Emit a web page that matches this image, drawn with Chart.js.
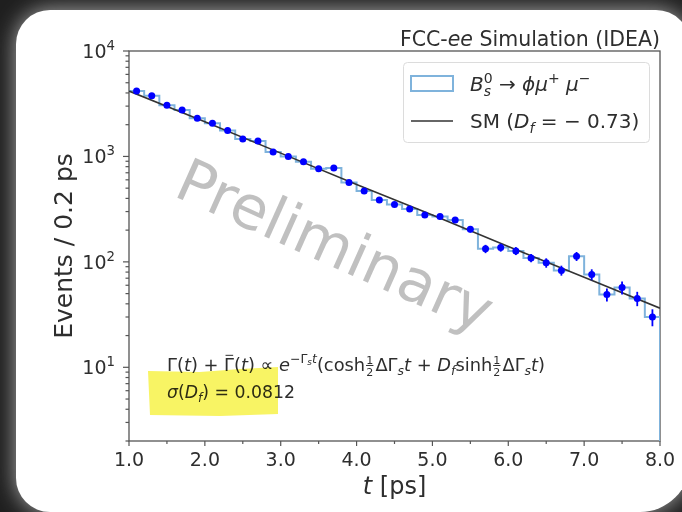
<!DOCTYPE html>
<html>
<head>
<meta charset="utf-8">
<script src="https://cdn.jsdelivr.net/npm/chart.js@4.4.0/dist/chart.umd.min.js"></script>
<style>
  html, body { margin: 0; padding: 0; background: #1c1c1c; }
  canvas { display: block; }
</style>
</head>
<body>
<canvas id="decayChart" width="682" height="512"></canvas>
<script>
// bin centres (ps) and event counts per 0.2 ps bin
const binCenters = [1.1, 1.3, 1.5, 1.7, 1.9, 2.1, 2.3, 2.5, 2.7, 2.9, 3.1, 3.3, 3.5, 3.7, 3.9, 4.1, 4.3, 4.5,
  4.7, 4.9, 5.1, 5.3, 5.5, 5.7, 5.9, 6.1, 6.3, 6.5, 6.7, 6.9, 7.1, 7.3, 7.5, 7.7, 7.9];
const eventCounts = [4170, 3770, 3060, 2760, 2300, 2060, 1760, 1460, 1400, 1100, 1000, 890, 765, 775, 565, 470, 387, 350,
  318, 279, 269, 250, 204, 133, 137, 127, 109, 98, 83, 113, 76, 49, 57, 45, 30];
const countErrors = [65, 61, 55, 53, 48, 45, 42, 38, 37, 33, 32, 30, 28, 28, 24, 22, 20, 19,
  18, 17, 16, 16, 14, 12, 12, 11, 10, 10, 9, 11, 9, 7, 8, 7, 5.5];
const binWidth = 0.2;

// SM expectation (D_f = -0.73)
const smTimes = [1, 2, 3, 4, 5, 6, 7, 8];
const smValues = [4170, 2130, 1075, 543, 279, 140, 71.5, 36.4];

const xTickValues = [1, 2, 3, 4, 5, 6, 7, 8];
const xTickLabels = ['1.0', '2.0', '3.0', '4.0', '5.0', '6.0', '7.0', '8.0'];
const xMinorTicks = [1.5, 2.5, 3.5, 4.5, 5.5, 6.5, 7.5];
const yTickValues = [10, 100, 1000, 10000];
const yTickExponents = ['1', '2', '3', '4'];
const yMin = 2;
const yMax = 10000;

const histSteps = binCenters.map((c, i) => ({ x: c - binWidth / 2, y: eventCounts[i] }));
histSteps.push({ x: 8, y: eventCounts[eventCounts.length - 1] });
histSteps.push({ x: 8, y: yMin });

const TEXT = '#2e2e2e';

function fontFor(it, px) {
  return (it ? 'italic ' : '') + px.toFixed(2) + 'px "DejaVu Sans", sans-serif';
}

function measureMath(ctx, parts, size) {
  let w = 0;
  const placed = [];
  parts.forEach(p => {
    if (p.frac) {
      ctx.font = fontFor(false, size * 0.62);
      const fw = Math.max(...p.frac.map(t => ctx.measureText(t).width)) + size * 0.12;
      placed.push({ p, x: w, w: fw });
      w += fw + size * 0.06;
      return;
    }
    ctx.font = fontFor(p.it, size * (p.k || 1));
    const tw = ctx.measureText(p.s).width;
    placed.push({ p, x: w, w: tw });
    if (!p.noAdv) w += tw;
  });
  return { placed, w };
}

function drawMath(ctx, parts, x, y, size, align, color) {
  const m = measureMath(ctx, parts, size);
  const x0 = align === 'right' ? x - m.w : align === 'center' ? x - m.w / 2 : x;
  ctx.save();
  ctx.fillStyle = color;
  ctx.strokeStyle = color;
  ctx.textBaseline = 'alphabetic';
  m.placed.forEach(({ p, x: px, w }) => {
    if (p.frac) {
      ctx.font = fontFor(false, size * 0.62);
      ctx.textAlign = 'center';
      const cx = x0 + px + w / 2;
      ctx.fillText(p.frac[0], cx, y - size * 0.42);
      ctx.fillText(p.frac[1], cx, y + size * 0.28);
      ctx.lineWidth = Math.max(1, size * 0.05);
      ctx.beginPath();
      ctx.moveTo(x0 + px + size * 0.05, y - size * 0.31);
      ctx.lineTo(x0 + px + w - size * 0.05, y - size * 0.31);
      ctx.stroke();
      return;
    }
    ctx.textAlign = 'left';
    ctx.font = fontFor(p.it, size * (p.k || 1));
    ctx.fillText(p.s, x0 + px, y + (p.dy || 0) * size);
    if (p.bar) {
      ctx.lineWidth = Math.max(1, size * 0.05);
      ctx.beginPath();
      ctx.moveTo(x0 + px + size * 0.08, y - size * 0.88);
      ctx.lineTo(x0 + px + w - size * 0.05, y - size * 0.88);
      ctx.stroke();
    }
  });
  ctx.restore();
  return m.w;
}

const titleParts = [{ s: 'FCC-' }, { s: 'ee', it: true }, { s: ' Simulation (IDEA)' }];
const legendHistParts = [
  { s: 'B', it: true }, { s: 's', it: true, k: 0.7, dy: 0.24, noAdv: true }, { s: '0', k: 0.7, dy: -0.42 },
  { s: ' → ' }, { s: 'ϕμ', it: true }, { s: '+', k: 0.7, dy: -0.42 }, { s: ' μ', it: true }, { s: '−', k: 0.7, dy: -0.42 }
];
const legendLineParts = [{ s: 'SM (' }, { s: 'D', it: true }, { s: 'f', it: true, k: 0.7, dy: 0.24 }, { s: ' = − 0.73)' }];
const formulaParts = [
  { s: 'Γ(' }, { s: 't', it: true }, { s: ') + ' }, { s: 'Γ', bar: true }, { s: '(' }, { s: 't', it: true }, { s: ') ∝ ' },
  { s: 'e', it: true }, { s: '−Γ', k: 0.7, dy: -0.45 }, { s: 's', it: true, k: 0.5, dy: -0.32 }, { s: 't', it: true, k: 0.7, dy: -0.45 },
  { s: '(cosh' }, { frac: ['1', '2'] }, { s: 'ΔΓ' }, { s: 's', it: true, k: 0.7, dy: 0.22 }, { s: 't', it: true },
  { s: ' + ' }, { s: 'D', it: true }, { s: 'f', it: true, k: 0.7, dy: 0.22 }, { s: 'sinh' }, { frac: ['1', '2'] },
  { s: 'ΔΓ' }, { s: 's', it: true, k: 0.7, dy: 0.22 }, { s: 't', it: true }, { s: ')' }
];
const sigmaParts = [{ s: 'σ', it: true }, { s: '(' }, { s: 'D', it: true }, { s: 'f', it: true, k: 0.7, dy: 0.22 }, { s: ') = 0.0812' }];

function panelPath(ctx, x, y, w, h, r) {
  ctx.beginPath();
  ctx.moveTo(x + r[0], y);
  ctx.lineTo(x + w - r[1], y);
  ctx.arcTo(x + w, y, x + w, y + r[1], r[1]);
  ctx.lineTo(x + w, y + h - r[2]);
  ctx.arcTo(x + w, y + h, x + w - r[2], y + h, r[2]);
  ctx.lineTo(x + r[3], y + h);
  ctx.arcTo(x, y + h, x, y + h - r[3], r[3]);
  ctx.lineTo(x, y + r[0]);
  ctx.arcTo(x, y, x + r[0], y, r[0]);
  ctx.closePath();
}

const backdrop = {
  id: 'backdrop',
  beforeDraw(chart) {
    const ctx = chart.ctx;
    ctx.save();
    ctx.fillStyle = '#1f1f1f';
    ctx.fillRect(0, 0, chart.width, chart.height);
    ctx.shadowColor = 'rgba(190,190,190,0.9)';
    ctx.shadowBlur = 22;
    ctx.fillStyle = '#ffffff';
    panelPath(ctx, 16, 10, 674, 502, [34, 34, 50, 34]);
    ctx.fill();
    ctx.restore();
  }
};

const spines = {
  id: 'spines',
  beforeDatasetsDraw(chart) {
    const { ctx, chartArea: a } = chart;
    ctx.save();
    ctx.strokeStyle = '#555';
    ctx.lineWidth = 1.3;
    ctx.strokeRect(a.left, a.top, a.right - a.left, a.bottom - a.top);
    ctx.restore();
  }
};

const errorBars = {
  id: 'errorBars',
  afterDatasetsDraw(chart) {
    const { ctx, scales: { x, y }, chartArea: a } = chart;
    ctx.save();
    ctx.beginPath();
    ctx.rect(a.left, a.top, a.right - a.left, a.bottom - a.top);
    ctx.clip();
    ctx.strokeStyle = '#0000ff';
    ctx.lineWidth = 1.8;
    binCenters.forEach((c, i) => {
      const px = x.getPixelForValue(c);
      ctx.beginPath();
      ctx.moveTo(px, y.getPixelForValue(eventCounts[i] - countErrors[i]));
      ctx.lineTo(px, y.getPixelForValue(eventCounts[i] + countErrors[i]));
      ctx.stroke();
    });
    ctx.restore();
  }
};

const decorations = {
  id: 'decorations',
  afterDraw(chart) {
    const { ctx, scales: { x, y }, chartArea: a } = chart;
    ctx.save();
    ctx.strokeStyle = '#555';
    ctx.lineWidth = 1.2;
    // x ticks
    xTickValues.forEach((v, i) => {
      const px = x.getPixelForValue(v);
      ctx.beginPath(); ctx.moveTo(px, a.bottom); ctx.lineTo(px, a.bottom + 5); ctx.stroke();
      ctx.font = fontFor(false, 19);
      ctx.fillStyle = TEXT;
      ctx.textAlign = 'center';
      ctx.fillText(xTickLabels[i], px, a.bottom + 25);
    });
    xMinorTicks.forEach(v => {
      const px = x.getPixelForValue(v);
      ctx.beginPath(); ctx.moveTo(px, a.bottom); ctx.lineTo(px, a.bottom + 3); ctx.stroke();
    });
    // y ticks (log)
    yTickValues.forEach((v, i) => {
      const py = y.getPixelForValue(v);
      ctx.beginPath(); ctx.moveTo(a.left - 6, py); ctx.lineTo(a.left, py); ctx.stroke();
      drawMath(ctx, [{ s: '10' }, { s: yTickExponents[i], k: 0.7, dy: -0.42 }], a.left - 14, py + 7, 19, 'right', TEXT);
    });
    for (let dec = 1; dec <= 1000; dec *= 10) {
      for (let m = 2; m <= 9; m++) {
        const v = m * dec;
        if (v < yMin || v > yMax) continue;
        const py = y.getPixelForValue(v);
        ctx.beginPath(); ctx.moveTo(a.left - 3.5, py); ctx.lineTo(a.left, py); ctx.stroke();
      }
    }
    // axis titles
    drawMath(ctx, [{ s: 't', it: true }, { s: ' [ps]' }], (a.left + a.right) / 2, 494, 24, 'center', TEXT);
    ctx.save();
    ctx.translate(72, (a.top + a.bottom) / 2);
    ctx.rotate(-Math.PI / 2);
    ctx.font = fontFor(false, 25);
    ctx.fillStyle = TEXT;
    ctx.textAlign = 'center';
    ctx.fillText('Events / 0.2 ps', 0, 0);
    ctx.restore();
    // title
    drawMath(ctx, titleParts, a.right, 46, 20.5, 'right', TEXT);

    // legend
    ctx.save();
    ctx.fillStyle = 'rgba(255,255,255,0.85)';
    ctx.strokeStyle = '#dcdcdc';
    ctx.lineWidth = 1;
    panelPath(ctx, 403.5, 62.5, 246, 80, [4, 4, 4, 4]);
    ctx.fill();
    ctx.stroke();
    ctx.restore();
    ctx.strokeStyle = '#7fb3dc';
    ctx.lineWidth = 2;
    ctx.strokeRect(411, 76, 42, 15);
    ctx.strokeStyle = '#333';
    ctx.lineWidth = 1.5;
    ctx.beginPath(); ctx.moveTo(411, 121); ctx.lineTo(453, 121); ctx.stroke();
    drawMath(ctx, legendHistParts, 470, 91, 20, 'left', TEXT);
    drawMath(ctx, legendLineParts, 470, 128, 20, 'left', TEXT);

    // formula annotation
    const fw = measureMath(ctx, formulaParts, 17).w;
    drawMath(ctx, formulaParts, 167, 371, 17 * 378 / fw, 'left', TEXT);
    const sw = measureMath(ctx, sigmaParts, 17).w;
    drawMath(ctx, sigmaParts, 167, 398, 17 * 128 / sw, 'left', TEXT);

    // highlighter mark
    ctx.save();
    ctx.globalCompositeOperation = 'multiply';
    ctx.fillStyle = 'rgb(248,244,100)';
    ctx.beginPath();
    ctx.moveTo(148, 371); ctx.lineTo(200, 372); ctx.lineTo(240, 369); ctx.lineTo(278, 367);
    ctx.lineTo(278, 414); ctx.lineTo(220, 416); ctx.lineTo(150, 415);
    ctx.closePath();
    ctx.fill();
    ctx.restore();

    // watermark
    ctx.save();
    ctx.translate(333, 250);
    ctx.rotate(0.42);
    ctx.font = fontFor(false, 60);
    ctx.fillStyle = 'rgba(140,140,140,0.55)';
    ctx.textAlign = 'center';
    ctx.textBaseline = 'middle';
    ctx.fillText('Preliminary', 0, 0);
    ctx.restore();

    ctx.restore();
  }
};

new Chart(document.getElementById('decayChart'), {
  type: 'line',
  data: {
    datasets: [
      {
        type: 'scatter',
        label: 'pseudo-data',
        data: binCenters.map((c, i) => ({ x: c, y: eventCounts[i] })),
        pointRadius: 3.5,
        pointBackgroundColor: '#0000ff',
        pointBorderWidth: 0,
        showLine: false
      },
      {
        label: 'SM',
        data: smTimes.map((t, i) => ({ x: t, y: smValues[i] })),
        borderColor: '#333333',
        borderWidth: 1.6,
        pointRadius: 0,
        fill: false
      },
      {
        label: 'Bs0 -> phi mu mu',
        data: histSteps,
        stepped: 'before',
        borderColor: '#7fb3dc',
        borderWidth: 2,
        pointRadius: 0,
        fill: false
      }
    ]
  },
  options: {
    responsive: false,
    animation: false,
    layout: { padding: { left: 129, top: 51, right: 22, bottom: 71 } },
    plugins: {
      legend: { display: false },
      tooltip: { enabled: false }
    },
    scales: {
      x: { type: 'linear', min: 1, max: 8, display: false },
      y: { type: 'logarithmic', min: yMin, max: yMax, display: false }
    }
  },
  plugins: [backdrop, spines, errorBars, decorations]
});
</script>
</body>
</html>
